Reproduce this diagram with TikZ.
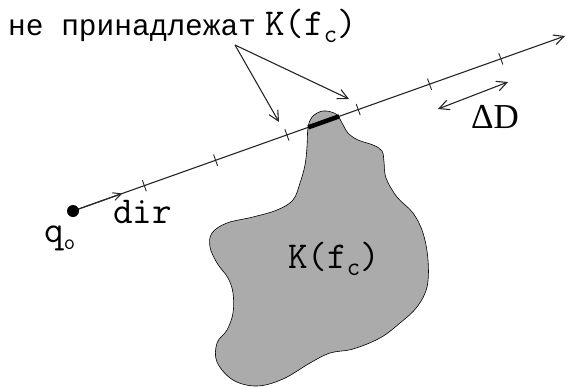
\documentclass[tikz,border=0pt]{standalone}
\usepackage{fontspec}
\newfontfamily\cyrmono{Liberation Mono}
\newfontfamily\seriffam{Liberation Serif}
\usetikzlibrary{calc,arrows.meta}
\newcommand{\lowc}[1]{\raisebox{-7pt}{\fontsize{26}{28}\selectfont #1}}
\tikzset{
  ray/.style={line width=1.1pt, draw=black!85},
  barb/.style={-{Straight Barb[length=10pt,width=10pt,line width=1.1pt]}},
  dbarb/.style={{Straight Barb[length=10pt,width=10pt,line width=1.1pt]}-{Straight Barb[length=10pt,width=10pt,line width=1.1pt]}},
  tick/.style={line width=0.9pt, draw=black!85},
  blob/.style={fill=black!33, draw=black, line width=0.6pt},
  monolbl/.style={font=\ttfamily\fontsize{38}{40}\selectfont, inner sep=0pt, anchor=base west},
}
\begin{document}
\begin{tikzpicture}[x=1pt,y=-1pt]
\useasboundingbox (0,0) rectangle (567,388);
% blob
\path[blob] plot[smooth cycle, tension=0.6] coordinates {
(308,128) (312,117) (323,111) (336,114) (342,123) (348,133) (358,140) (373,145) (382,151)
(384,162) (386,178) (397,197) (413,213) (423,233) (428,260) (427,287) (417,307) (400,323)
(380,338) (353,349) (330,353) (310,363) (283,379) (257,386) (233,380) (217,362) (217,343)
(227,330) (233,313) (233,293) (228,278) (217,263) (210,247) (212,233) (227,223) (253,217)
(277,210) (293,200) (300,183) (305,165) (307,147)};
\node[monolbl] (klbl) at (288,268) {K(f\lowc{c})};
% ray
\coordinate (q) at (73,211);
\coordinate (e) at (565,36);
\draw[ray, barb] (q) -- (e);
\draw[ray, -{Straight Barb[length=8pt,width=8pt,line width=1pt]}] (q) -- ($(q)!0.1!(e)$);
\foreach \k in {1,...,6} {
  \coordinate (t\k) at ($(q)!\k/6.9!(e)$);
  \draw[tick] ($(t\k)!6pt!90:(e)$) -- ($(t\k)!6pt!-90:(e)$);
}
\draw[line width=4.5pt] ($(q)!0.478!(e)$) -- ($(q)!0.541!(e)$);
\fill (q) circle (6pt);
% labels
\node[monolbl] (dirl) at (113,223) {dir};
\node[monolbl] (ql) at (44,242) {q\raisebox{-7pt}{\fontsize{22}{24}\selectfont o}};
\node[inner sep=0pt, anchor=base west] (top) at (8,35)
  {\cyrmono\fontsize{29.5}{32}\selectfont не принадлежат\hspace{9pt}\ttfamily\fontsize{38}{40}\selectfont K(f\lowc{c})};
% arrows from top label
\coordinate (src) at (235,45);
\coordinate (a1) at (279,122);
\coordinate (a2) at (349,99);
\draw[ray, barb] (src) -- (a1);
\draw[ray, barb] (src) -- (a2);
% Delta D
\coordinate (d1) at (438,109);
\coordinate (d2) at (508,82);
\draw[ray, dbarb] (d1) -- (d2);
\node[inner sep=0pt, anchor=base west] (dd) at (471,128) {\seriffam\fontsize{35}{38}\selectfont ΔD};
\end{tikzpicture}
\end{document}
